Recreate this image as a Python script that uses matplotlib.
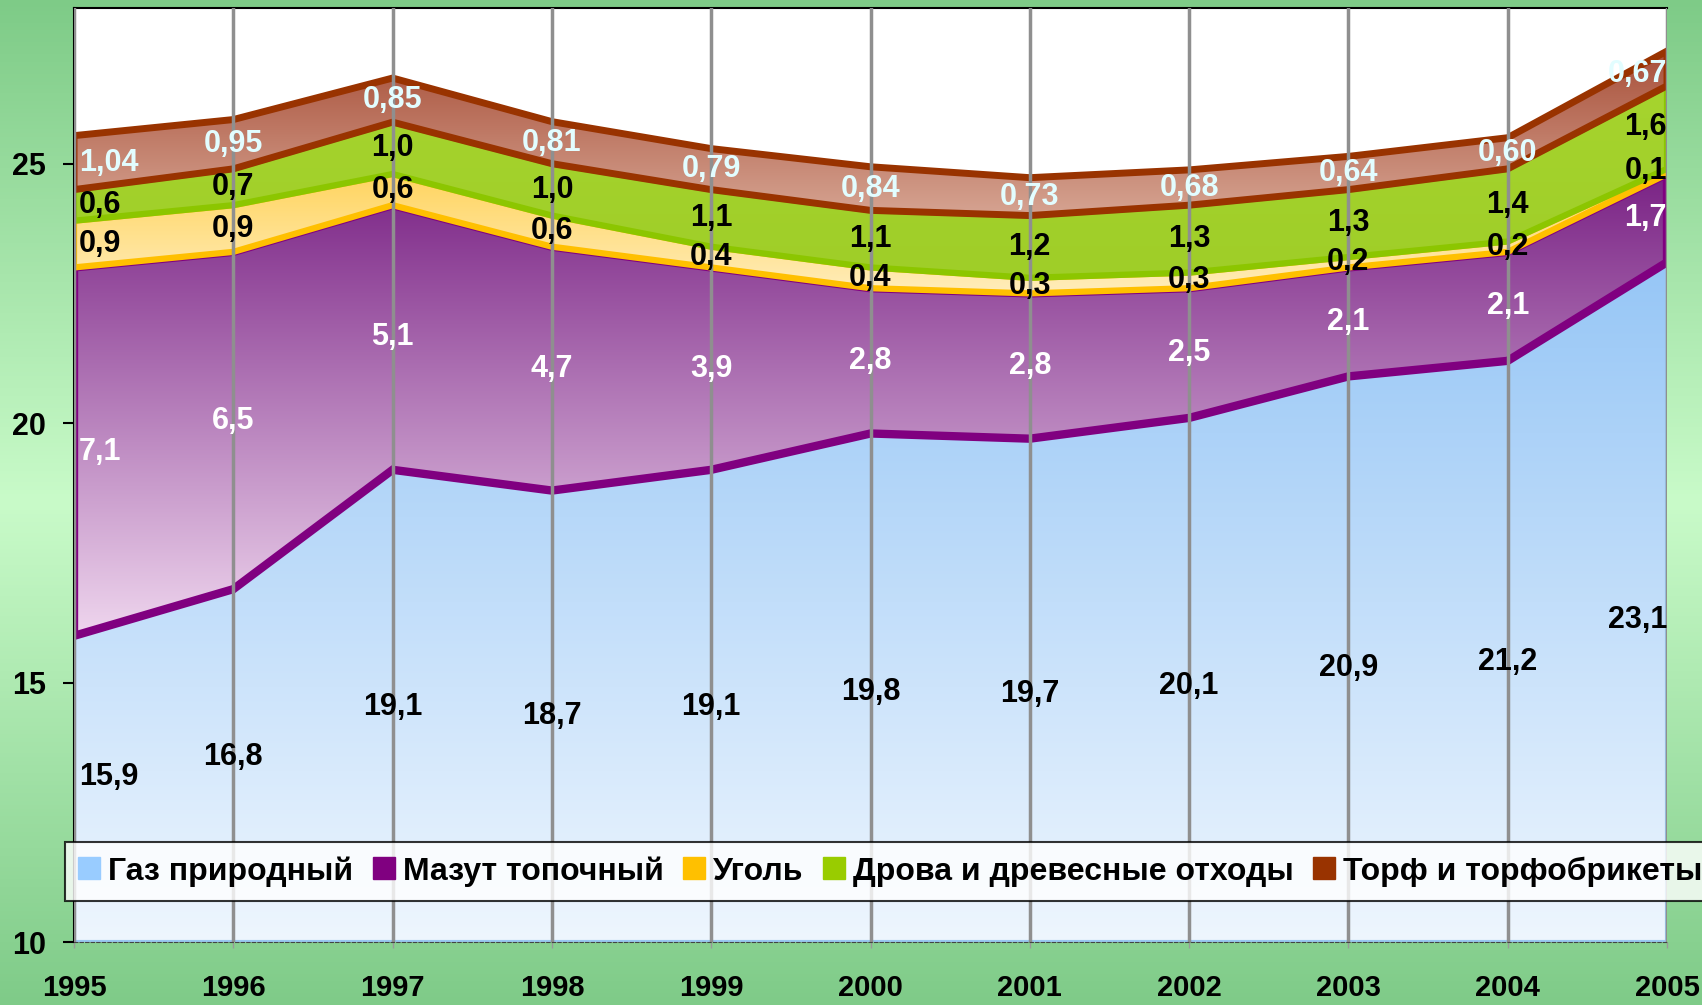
import numpy as np
import matplotlib
matplotlib.use("Agg")
import matplotlib.pyplot as plt
from matplotlib.colors import LinearSegmentedColormap
from matplotlib.patches import Polygon
from matplotlib.lines import Line2D

# ---- data ----
years = [1995, 1996, 1997, 1998, 1999, 2000, 2001, 2002, 2003, 2004, 2005]
gas = [15.9, 16.8, 19.1, 18.7, 19.1, 19.8, 19.7, 20.1, 20.9, 21.2, 23.1]
mazut = [7.1, 6.5, 5.1, 4.7, 3.9, 2.8, 2.8, 2.5, 2.1, 2.1, 1.7]
coal = [0.9, 0.9, 0.6, 0.6, 0.4, 0.4, 0.3, 0.3, 0.2, 0.2, 0.1]
wood = [0.6, 0.7, 1.0, 1.0, 1.1, 1.1, 1.2, 1.3, 1.3, 1.4, 1.6]
peat = [1.04, 0.95, 0.85, 0.81, 0.79, 0.84, 0.73, 0.68, 0.64, 0.60, 0.67]
names = ["Газ природный", "Мазут топочный", "Уголь",
         "Дрова и древесные отходы", "Торф и торфобрикеты"]

FONT = ["Liberation Sans Narrow", "Liberation Sans", "DejaVu Sans"]
plt.rcParams["font.family"] = FONT
plt.rcParams["font.weight"] = "bold"

W, H = 1702, 1005
fig = plt.figure(figsize=(W / 100, H / 100), dpi=100)

# green gradient background
bg = fig.add_axes([0, 0, 1, 1], zorder=-10)
bg_cmap = LinearSegmentedColormap.from_list("bg", ["#7ecb87", "#c9fbc9", "#7fcb88"])
bg.imshow(np.linspace(0, 1, 256).reshape(-1, 1), cmap=bg_cmap, aspect="auto",
          extent=[0, 1, 0, 1], origin="upper")
bg.axis("off")

ax = fig.add_axes([74 / W, 1 - 942 / H, (1667 - 74) / W, (942 - 8) / H])
ax.set_facecolor("white")

x = np.array(years, dtype=float)
series = [np.array(s) for s in (gas, mazut, coal, wood, peat)]
# style per series: (top colour, bottom colour, outline colour, outline width)
styles = [
    ("#96c6f6", "#eef6fe", "#99c8f0", 3),
    ("#7a2385", "#efd6ee", "#800080", 6),
    ("#ffd35a", "#ffedbb", "#ffc000", 4.5),
    ("#a6d42e", "#9fce28", "#8cc600", 4.5),
    ("#a8503a", "#d6a492", "#993300", 5),
]
handle_colors = ["#99ccff", "#800080", "#ffc000", "#99cc00", "#993300"]

ymin, ymax = 10, 28
lo = np.full_like(x, ymin)
bounds = []
base = np.zeros_like(x)
for i, (vals, (ctop, cbot, cline, lw)) in enumerate(zip(series, styles)):
    bottom = lo if i == 0 else base
    top = base + vals
    z = 1 + 0.2 * i
    poly = ax.fill_between(x, bottom, top, facecolor="none", edgecolor="none", zorder=z)
    path = poly.get_paths()[0]
    cmap = LinearSegmentedColormap.from_list("g%d" % i, [cbot, ctop])
    im = ax.imshow(np.linspace(0, 1, 256).reshape(-1, 1), cmap=cmap, origin="lower",
                   extent=[x[0], x[-1], bottom.min(), top.max()], aspect="auto",
                   zorder=z, interpolation="bilinear")
    im.set_clip_path(path, transform=ax.transData)
    ax.add_patch(Polygon(path.vertices, closed=True, fill=False, edgecolor=cline,
                         lw=lw, zorder=z + 0.1, joinstyle="miter"))
    bounds.append((base.copy(), top.copy()))
    base = top

ax.set_xlim(years[0], years[-1])
ax.set_ylim(ymin, ymax)

# data labels
label_colors = ["black", "white", "black", "black", "#e2fdff"]
for i, vals in enumerate(series):
    b, t = bounds[i]
    for j, v in enumerate(vals):
        if i == 0:
            yl = ymin + 0.42 * (v - ymin) + 0.7
        else:
            yl = (b[j] + t[j]) / 2
        txt = (f"{v:.2f}" if i == 4 else f"{v:.1f}").replace(".", ",")
        if j == 0:
            ha, dx = "left", 5
        elif j == len(vals) - 1:
            ha, dx = "right", 0
        else:
            ha, dx = "center", 0
        dy = -6 if (i == 4 and j == len(vals) - 1) else 0
        ax.annotate(txt, (x[j], yl), xytext=(dx, dy), textcoords="offset pixels",
                    ha=ha, va="center", fontsize=22, color=label_colors[i],
                    fontweight="bold", zorder=6, annotation_clip=False)

# axes styling
ax.set_yticks([10, 15, 20, 25])
ax.set_xticks(years)
ax.tick_params(axis="y", direction="out", length=8, width=1.5, labelsize=22, pad=12)
ax.tick_params(axis="x", direction="out", length=4, width=1, color="#999999",
               labelsize=21, pad=19)
ax.grid(axis="x", color="#8f8f8f", lw=2.5)
ax.set_axisbelow(False)
ax.spines["right"].set_visible(False)
ax.spines["left"].set_linewidth(1.5)
ax.spines["top"].set_linewidth(1.5)
ax.spines["bottom"].set_linestyle((0, (3, 2)))
ax.spines["bottom"].set_color("#444444")
ax.spines["bottom"].set_zorder(5)

handles = [Line2D([], [], ls="none", marker="s", ms=16, mfc=c, mec=c)
           for c in handle_colors]
leg = fig.legend(handles, names, ncol=5, loc="lower left",
                 bbox_to_anchor=(65 / W, 1 - 901 / H), frameon=True, fancybox=False,
                 prop={"size": 23, "weight": "bold", "family": FONT},
                 handlelength=0.6, handletextpad=0.3, columnspacing=0.65,
                 borderpad=0.45, borderaxespad=0)
leg.get_frame().set_edgecolor("black")
leg.get_frame().set_linewidth(1.5)
leg.set_zorder(10)

fig.savefig("out.png", dpi=100)
